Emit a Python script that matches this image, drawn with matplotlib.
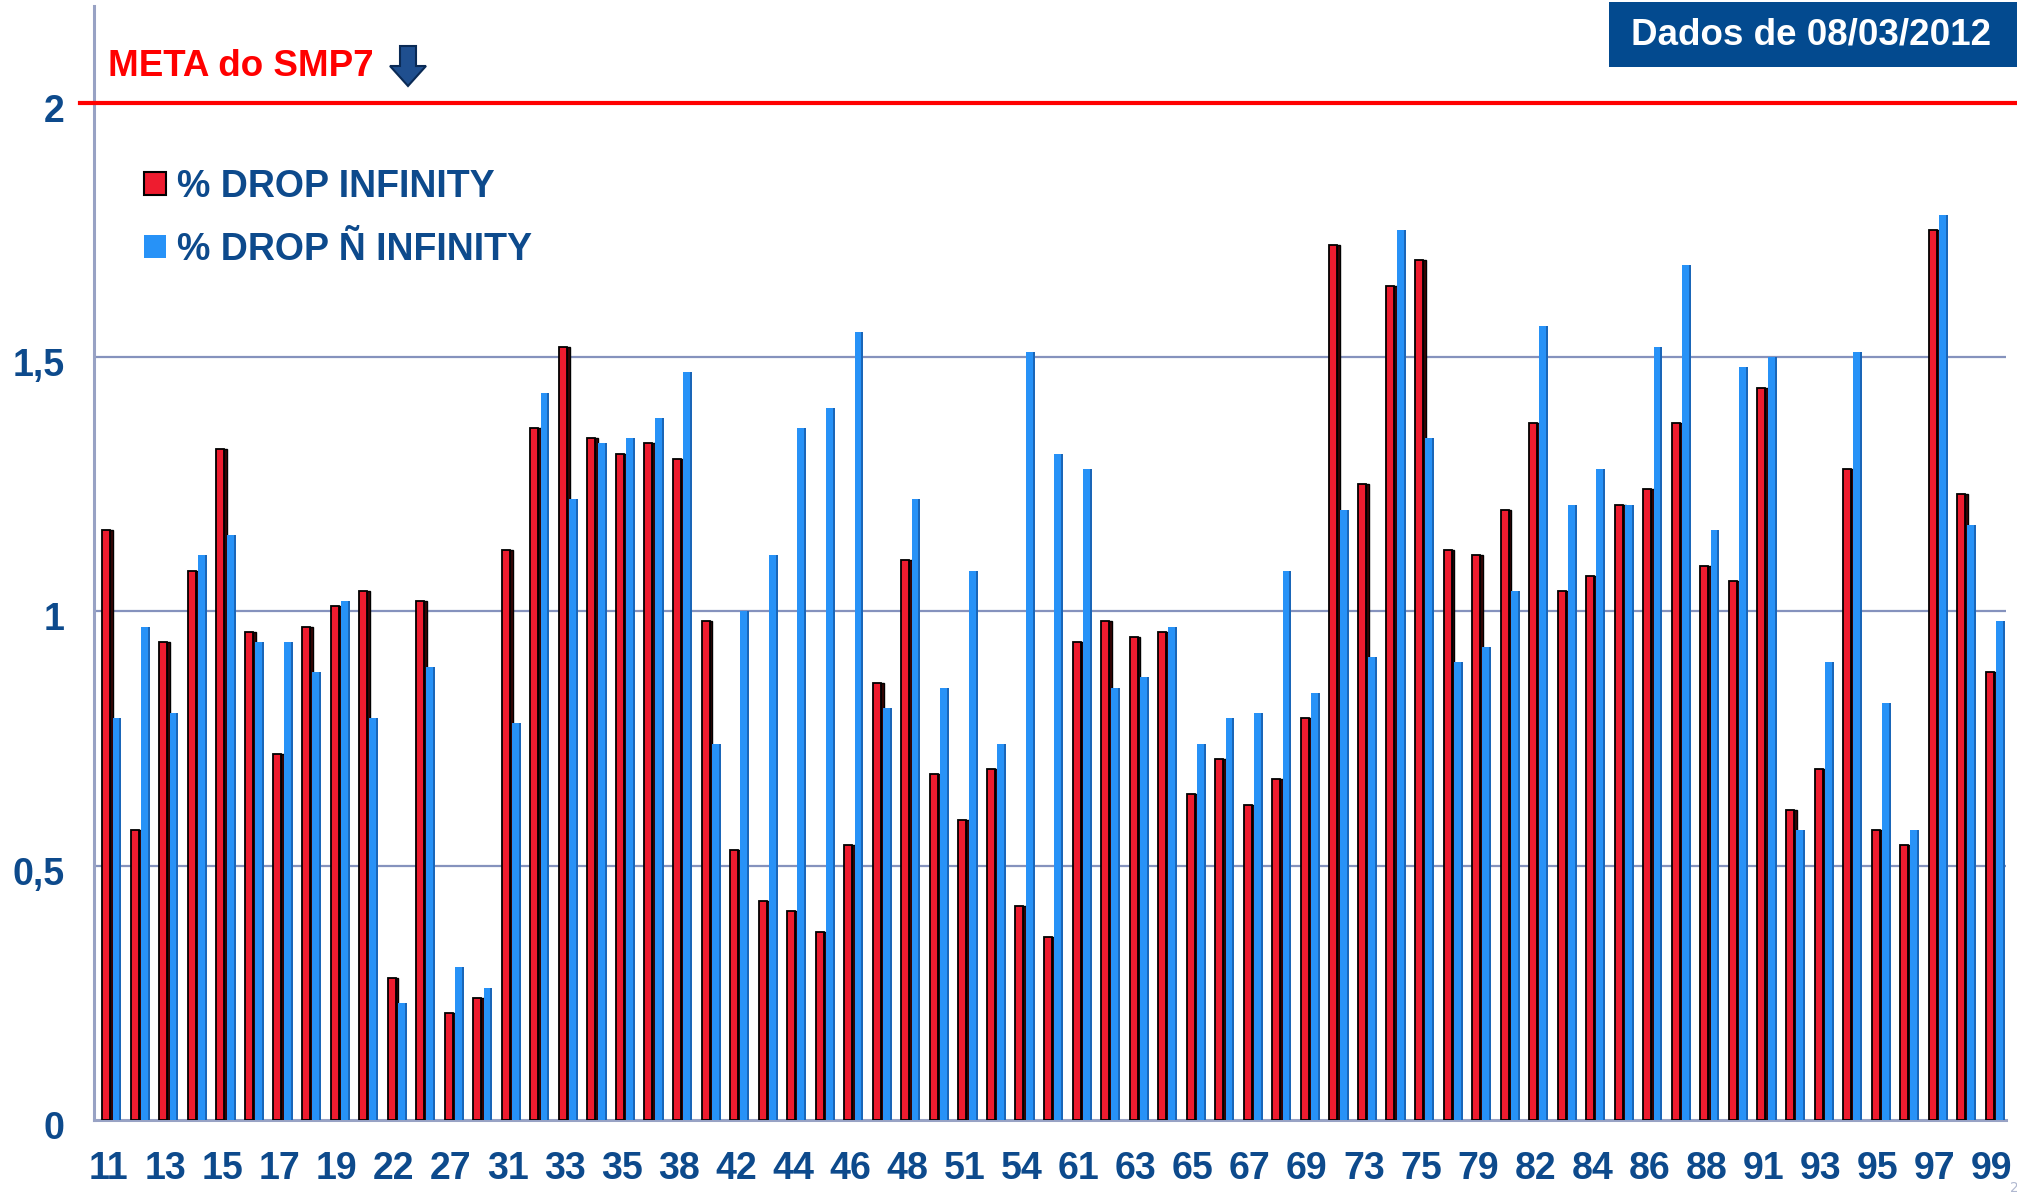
import matplotlib
matplotlib.use("Agg")
import matplotlib.pyplot as plt
import matplotlib.transforms as mtransforms
import numpy as np
from matplotlib.patches import Patch, Polygon, Rectangle

# DDD codes and % drop values
codes = ["11", "12", "13", "14", "15", "16", "17", "18", "19", "21", "22", "24", "27", "28",
         "31", "32", "33", "34", "35", "37", "38", "41", "42", "43", "44", "45", "46", "47",
         "48", "49", "51", "53", "54", "55", "61", "62", "63", "64", "65", "66", "67", "68",
         "69", "71", "73", "74", "75", "77", "79", "81", "82", "83", "84", "85", "86", "87",
         "88", "89", "91", "92", "93", "94", "95", "96", "97", "98", "99"]
drop_inf = [1.16, 0.57, 0.94, 1.08, 1.32, 0.96, 0.72, 0.97, 1.01, 1.04, 0.28, 1.02, 0.21, 0.24,
            1.12, 1.36, 1.52, 1.34, 1.31, 1.33, 1.30, 0.98, 0.53, 0.43, 0.41, 0.37, 0.54, 0.86,
            1.10, 0.68, 0.59, 0.69, 0.42, 0.36, 0.94, 0.98, 0.95, 0.96, 0.64, 0.71, 0.62, 0.67,
            0.79, 1.72, 1.25, 1.64, 1.69, 1.12, 1.11, 1.20, 1.37, 1.04, 1.07, 1.21, 1.24, 1.37,
            1.09, 1.06, 1.44, 0.61, 0.69, 1.28, 0.57, 0.54, 1.75, 1.23, 0.88]
drop_n_inf = [0.79, 0.97, 0.80, 1.11, 1.15, 0.94, 0.94, 0.88, 1.02, 0.79, 0.23, 0.89, 0.30, 0.26,
              0.78, 1.43, 1.22, 1.33, 1.34, 1.38, 1.47, 0.74, 1.00, 1.11, 1.36, 1.40, 1.55, 0.81,
              1.22, 0.85, 1.08, 0.74, 1.51, 1.31, 1.28, 0.85, 0.87, 0.97, 0.74, 0.79, 0.80, 1.08,
              0.84, 1.20, 0.91, 1.75, 1.34, 0.90, 0.93, 1.04, 1.56, 1.21, 1.28, 1.21, 1.52, 1.68,
              1.16, 1.48, 1.50, 0.57, 0.90, 1.51, 0.82, 0.57, 1.78, 1.17, 0.98]
meta = 2.0
yticks = [0, 0.5, 1, 1.5, 2]
ylabels = ["0", "0,5", "1", "1,5", "2"]

W, H = 2017, 1196
navy = "#0d4a8c"
grid_c = "#8592bd"

fig = plt.figure(figsize=(W / 100, H / 100), dpi=100)
ax = fig.add_axes([94 / W, 1 - 1120 / H, 1912 / W, 1114 / H])

x = np.arange(len(codes))
# red bars: front face + dark side for the 3d look
ax.bar(x - 0.21, drop_inf, width=0.28, align="edge", color="#ee1c2f",
       edgecolor="black", linewidth=1.3, zorder=3)
ax.bar(x + 0.07, drop_inf, width=0.10, align="edge", color="#3d0606",
       edgecolor="black", linewidth=1.0, zorder=3)
# blue bars
ax.bar(x + 0.15, drop_n_inf, width=0.24, align="edge", color="#2792f7",
       linewidth=0, zorder=3)
ax.bar(x + 0.39, drop_n_inf, width=0.07, align="edge", color="#1a66b8",
       linewidth=0, zorder=3)

ax.set_xlim(-0.5, len(codes) - 0.5)
ax.set_ylim(0, 2.19)

for v in [0.5, 1, 1.5]:
    ax.axhline(v, color=grid_c, lw=1.6, zorder=1)
ax.axhline(meta, xmin=-0.0073, xmax=1.006, color="#ff0000", lw=3, zorder=4, clip_on=False)

for s in ["top", "right"]:
    ax.spines[s].set_visible(False)
ax.spines["left"].set_color("#98a2c4")
ax.spines["left"].set_linewidth(2.2)
ax.spines["bottom"].set_color("#98a2c4")
ax.spines["bottom"].set_linewidth(2.2)

ax.set_yticks(yticks)
ax.set_yticklabels(ylabels, fontsize=27, fontweight="bold", color=navy,
                   family=["Liberation Sans", "DejaVu Sans"])
ax.tick_params(axis="y", length=0, pad=21)
shift = mtransforms.ScaledTranslation(0, -5 / 100, fig.dpi_scale_trans)
for lab in ax.get_yticklabels():
    lab.set_transform(lab.get_transform() + shift)

ax.set_xticks(x[::2])
ax.set_xticklabels(codes[::2], fontsize=27, fontweight="bold", color=navy,
                   family=["Liberation Sans", "DejaVu Sans"])
ax.tick_params(axis="x", length=0, pad=22)

handles = [Patch(facecolor="#ee1c2f", edgecolor="black", linewidth=1.5),
           Patch(facecolor="#2792f7", edgecolor="none")]
leg = ax.legend(handles, ["% DROP INFINITY", "% DROP Ñ INFINITY"],
                loc="upper left", bbox_to_anchor=(144 / W, 1 - 169 / H),
                bbox_transform=fig.transFigure, frameon=False, borderpad=0,
                borderaxespad=0, handlelength=0.58, handleheight=0.58,
                handletextpad=0.3, labelspacing=0.71,
                prop={"family": "Liberation Sans", "weight": "bold", "size": 27})
for t in leg.get_texts():
    t.set_color(navy)

fig.text(108 / W, 1 - 66 / H, "META do SMP7", color="#ff0000", fontsize=26.5,
         fontweight="bold", family="Liberation Sans", va="center", ha="left")

# down arrow next to META
arrow_px = [(400, 46), (416, 46), (416, 66), (426, 66), (408, 86), (390, 66), (400, 66)]
fig.patches.append(Polygon([(px / W, 1 - py / H) for px, py in arrow_px], closed=True,
                           facecolor="#1f4f8f", edgecolor="#0a2a55", linewidth=1.5,
                           transform=fig.transFigure))

# date box
fig.patches.append(Rectangle((1609 / W, 1 - 67 / H), (W - 1609) / W, 65 / H,
                             facecolor="#034a8f", edgecolor="none",
                             transform=fig.transFigure))
fig.text(1811 / W, 1 - 35 / H, "Dados de 08/03/2012", color="white", fontsize=26.5,
         fontweight="bold", family="Liberation Sans", va="center", ha="center")

fig.text(2010 / W, 1 - 1188 / H, "2", color="#b0b8d0", fontsize=10, ha="left", va="center")

fig.savefig("out.png", dpi=100)
